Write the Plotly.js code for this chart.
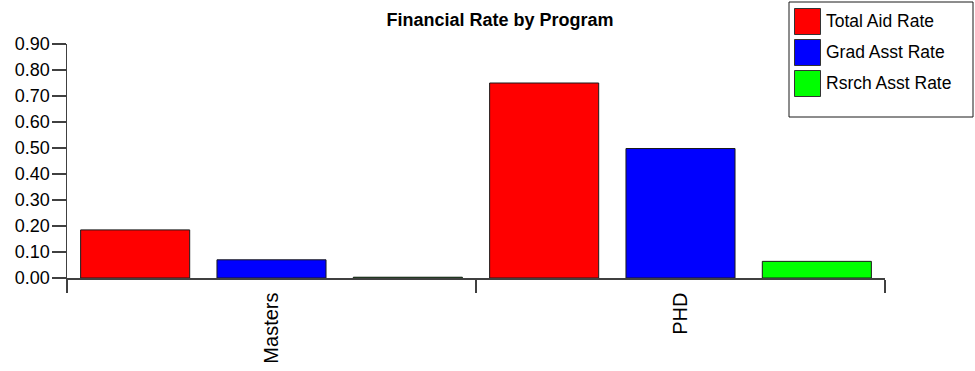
<!DOCTYPE html>
<html>
<head>
<meta charset="utf-8">
<script src="https://cdn.plot.ly/plotly-3.0.1.min.js"></script>
<style>html,body{margin:0;padding:0;background:#fff;}#chart{width:975px;height:371px;}</style>
</head>
<body>
<div id="chart"></div>
<script>
const categories = ["Masters", "PHD"];
const seriesNames = ["Total Aid Rate", "Grad Asst Rate", "Rsrch Asst Rate"];
const seriesColors = ["#ff0000", "#0000ff", "#00ff00"];
const totalAidRate = [0.185, 0.750];
const gradAsstRate = [0.070, 0.498];
const rsrchAsstRate = [0.003, 0.064];
const yTickVals = [0, 0.1, 0.2, 0.3, 0.4, 0.5, 0.6, 0.7, 0.8, 0.9];
const yTickText = ["0.00","0.10","0.20","0.30","0.40","0.50","0.60","0.70","0.80","0.90"];

const W = 975, H = 371;
const M = {l: 67, r: 90, t: 44, b: 93};
const pw = W - M.l - M.r, ph = H - M.t - M.b;
const px = x => (x - M.l) / pw;
const py = y => (H - M.b - y) / ph;

const seriesValues = [totalAidRate, gradAsstRate, rsrchAsstRate];
const FONT = "Arial, 'Liberation Sans', sans-serif";
const AXIS = "#404040";

const traces = seriesNames.map((n, i) => ({
  type: "bar",
  name: n,
  x: categories,
  y: seriesValues[i],
  marker: {color: seriesColors[i], line: {color: "#1a1a1a", width: 1}},
  showlegend: false,
  hoverinfo: "x+y+name"
}));

// Legend drawn as box + swatches + labels
const shapes = [{
  type: "rect", xref: "paper", yref: "paper",
  x0: px(789), x1: px(973), y0: py(2), y1: py(117),
  line: {color: "#1a1a1a", width: 1}, fillcolor: "rgba(0,0,0,0)"
}];
const annotations = [];
seriesNames.forEach((n, i) => {
  const top = 8.5 + i * 31;
  shapes.push({
    type: "rect", xref: "paper", yref: "paper",
    x0: px(794.5), x1: px(820.5), y0: py(top), y1: py(top + 26),
    fillcolor: seriesColors[i], line: {color: "#333333", width: 1}
  });
  annotations.push({
    xref: "paper", yref: "paper", x: px(824), y: py(top + 12.5),
    xanchor: "left", yanchor: "middle", showarrow: false,
    text: n, font: {family: FONT, size: 17.5, color: "#000"}
  });
});

const layout = {
  width: W, height: H,
  margin: M,
  paper_bgcolor: "#fff", plot_bgcolor: "#fff",
  font: {family: FONT, color: "#000"},
  title: {
    text: "<b>Financial Rate by Program</b>",
    font: {family: FONT, size: 18, color: "#000"},
    xref: "paper", x: px(500), xanchor: "center",
    yref: "container", y: 1 - 20 / H, yanchor: "middle"
  },
  barmode: "group",
  bargap: 0,
  bargroupgap: 0.2,
  showlegend: false,
  xaxis: {
    type: "category",
    showline: true, linecolor: AXIS, linewidth: 1.5,
    ticks: "outside", tickson: "boundaries", ticklen: 13, tickwidth: 1.5, tickcolor: AXIS,
    tickangle: -90,
    ticklabelstandoff: 5,
    tickfont: {family: FONT, size: 20, color: "#000"},
    showgrid: false, zeroline: false
  },
  yaxis: {
    range: [0, 0.9],
    tickvals: yTickVals, ticktext: yTickText,
    showline: true, linecolor: AXIS, linewidth: 1.5,
    ticks: "outside", ticklen: 14, tickwidth: 1.5, tickcolor: AXIS,
    ticklabelstandoff: -2,
    tickfont: {family: FONT, size: 18, color: "#000"},
    showgrid: false, zeroline: false, fixedrange: true
  },
  shapes: shapes,
  annotations: annotations
};

Plotly.newPlot("chart", traces, layout, {displayModeBar: false, staticPlot: true});
</script>
</body>
</html>
